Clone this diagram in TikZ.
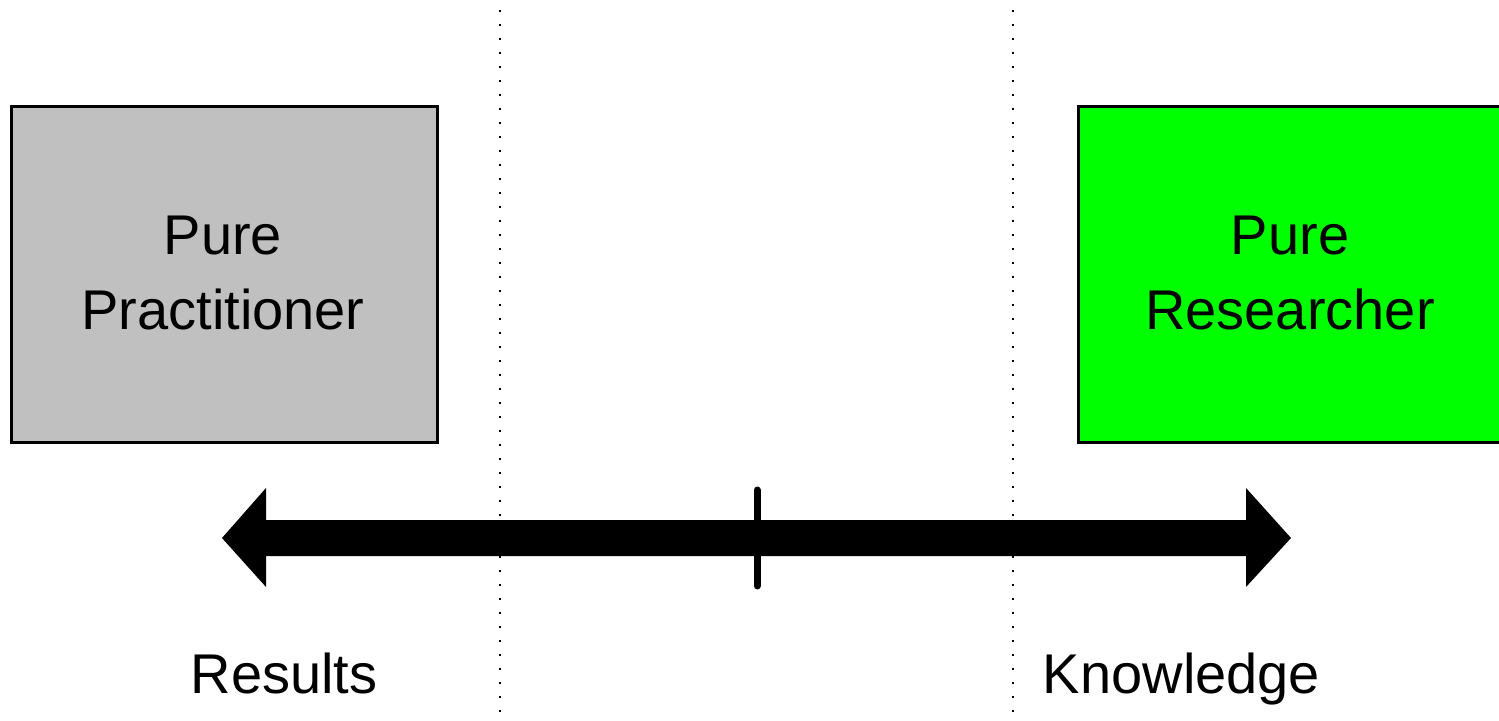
\documentclass[tikz,border=0pt]{standalone}
\usepackage{fontspec}
\setmainfont{Liberation Sans}
\definecolor{boxgray}{HTML}{C0C0C0}
\definecolor{boxgreen}{HTML}{00FF00}
\begin{document}
\begin{tikzpicture}[x=0.5pt,y=-0.5pt,
  rolebox/.style={draw=black,line width=1.5pt,rectangle},
  label/.style={font=\fontsize{28}{37.5}\selectfont,align=center,inner sep=0pt,anchor=base},
  divider/.style={line width=1pt,dash pattern=on 1pt off 6pt,black}]
\useasboundingbox (0,0) rectangle (1499,721);
\clip (0,0) rectangle (1499,721);
% dotted dividers
\coordinate (d1top) at (500,10);
\coordinate (d1bot) at (500,721);
\coordinate (d2top) at (1013,10);
\coordinate (d2bot) at (1013,721);
\draw[divider] (d1top) -- (d1bot);
\draw[divider] (d2top) -- (d2bot);
% boxes
\node[rolebox,fill=boxgray,minimum width=213pt,minimum height=168pt,anchor=north west] (prac) at (9.5,105.5) {};
\node[rolebox,fill=boxgreen,minimum width=220pt,minimum height=168pt,anchor=north west] (res) at (1076.5,105.5) {};
\node[label] (practext) at (223,330) {Pure\\Practitioner};
\node[label] (restext) at (1290,330) {Pure\\Researcher};
% double arrow
\fill[black] (222,538) -- (266,488) -- (266,520) -- (1246,520) -- (1246,488) -- (1291,538)
  -- (1246,587) -- (1246,556) -- (266,556) -- (266,587) -- cycle;
\coordinate (ticktop) at (757,490);
\coordinate (tickbot) at (757,586);
\draw[line width=3.5pt,line cap=round] (ticktop) -- (tickbot);
% bottom labels
\node[label] (results) at (284,693) {Results};
\node[label] (knowledge) at (1181.5,693) {Knowledge};
\end{tikzpicture}
\end{document}
